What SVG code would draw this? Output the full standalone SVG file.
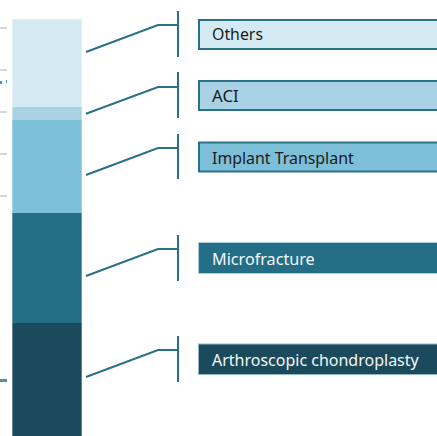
<svg xmlns="http://www.w3.org/2000/svg" width="437" height="436" viewBox="0 0 437 436">
<style>
.tick{fill:#d6d6d6}
.conn{fill:none;stroke:#2a7089;stroke-width:2}
.lbl{font-family:"Century Gothic","URW Gothic","Noto Sans","Liberation Sans",sans-serif;font-size:16px}
.dk{fill:#1a1a1a}
.wt{fill:#f4f8fa}
</style>
<rect width="437" height="436" fill="#ffffff"/>
<g id="axis">
<rect class="tick" x="0" y="27" width="7" height="2"/>
<rect class="tick" x="0" y="69" width="7" height="2"/>
<rect class="tick" x="0" y="111" width="7" height="2"/>
<rect class="tick" x="0" y="153" width="7" height="2"/>
<rect class="tick" x="0" y="195" width="7" height="2"/>
<rect x="0" y="81" width="2" height="3" fill="#3a9fc6"/>
<rect x="6" y="80" width="1" height="3" fill="#3a9fc6"/>
<rect x="0" y="379" width="7" height="3" fill="#5a8d9c"/>
</g>
<g id="bar">
<rect x="12" y="19" width="70" height="88" fill="#d4eaf2"/>
<rect x="12" y="107" width="70" height="13" fill="#a9d3e4"/>
<rect x="12" y="120" width="70" height="93" fill="#7dbfd9"/>
<rect x="12" y="213" width="70" height="110" fill="#236d87"/>
<rect x="12" y="323" width="70" height="113" fill="#1b4a5c"/>
<rect x="12.5" y="19.5" width="69" height="417" fill="none" stroke="#ffffff" stroke-opacity="0.3" stroke-width="1"/>
</g>
<g id="connectors">
<polyline class="conn" points="86,52 158,25 178,25"/>
<line class="conn" x1="178" y1="11" x2="178" y2="57"/>
<polyline class="conn" points="86,113.7 158,87 178,87"/>
<line class="conn" x1="178" y1="72" x2="178" y2="118"/>
<polyline class="conn" points="86,175 158,148 178,148"/>
<line class="conn" x1="178" y1="134" x2="178" y2="179"/>
<polyline class="conn" points="86,276 158,249 178,249"/>
<line class="conn" x1="178" y1="235" x2="178" y2="281"/>
<polyline class="conn" points="86,377 158,350 178,350"/>
<line class="conn" x1="178" y1="336" x2="178" y2="382"/>
</g>
<g id="others">
<rect x="199" y="20" width="250" height="29" fill="#d4eaf2" stroke="#2a7089" stroke-width="2"/>
<text class="lbl dk" x="212" y="40" textLength="51" lengthAdjust="spacingAndGlyphs">Others</text>
</g>
<g id="aci">
<rect x="199" y="81" width="250" height="29" fill="#a9d3e4" stroke="#2a7089" stroke-width="2"/>
<text class="lbl dk" x="212" y="102" textLength="26.7" lengthAdjust="spacingAndGlyphs">ACI</text>
</g>
<g id="implant">
<rect x="199" y="142.5" width="250" height="29" fill="#7dbfd9" stroke="#2a7089" stroke-width="2"/>
<text class="lbl dk" x="212" y="163.5" textLength="141.7" lengthAdjust="spacingAndGlyphs">Implant Transplant</text>
</g>
<g id="microfracture">
<rect x="198.5" y="242.5" width="250" height="31" fill="#236d87" stroke="#a9cfdc" stroke-width="1"/>
<text class="lbl wt" x="212" y="264.5" textLength="102.7" lengthAdjust="spacingAndGlyphs">Microfracture</text>
</g>
<g id="arthroscopic">
<rect x="198.5" y="344" width="250" height="30.5" fill="#1b4a5c" stroke="#8fb8c6" stroke-width="1"/>
<text class="lbl wt" x="212" y="366" textLength="206.7" lengthAdjust="spacingAndGlyphs">Arthroscopic chondroplasty</text>
</g>
</svg>
